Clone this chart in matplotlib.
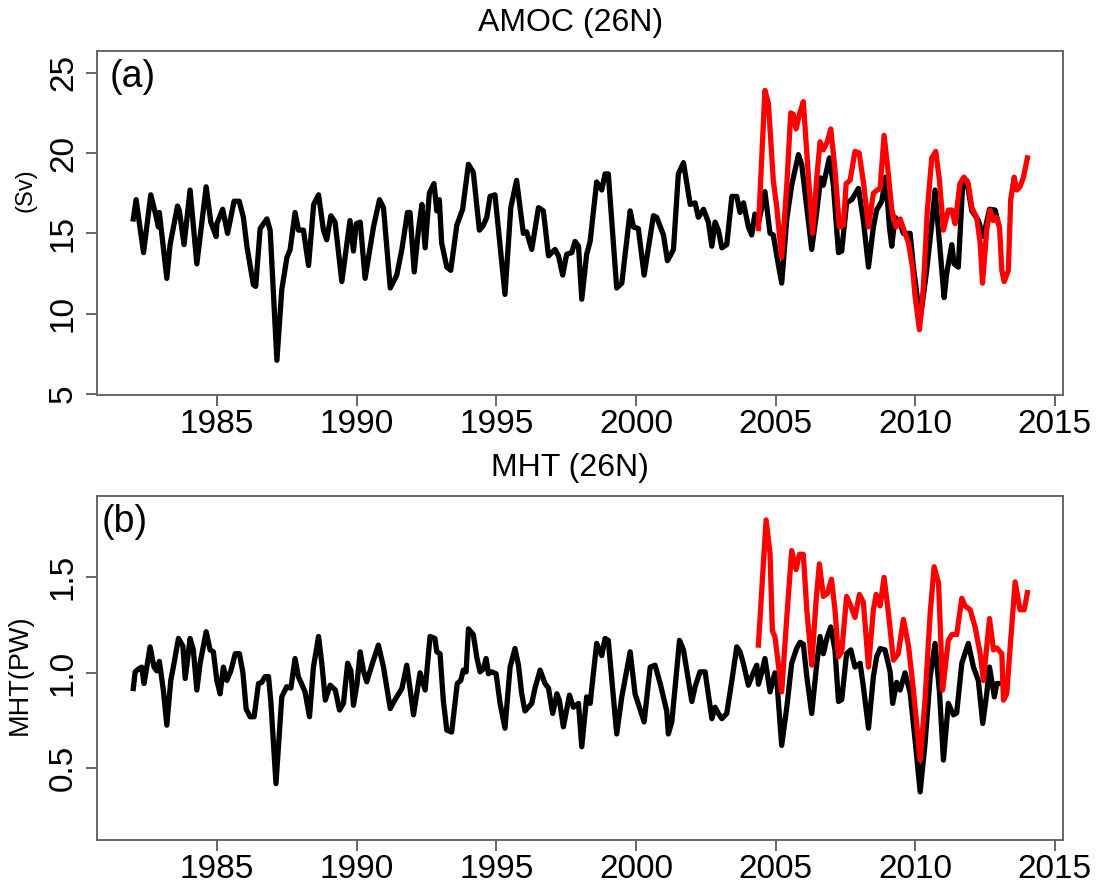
import numpy as np
import matplotlib
matplotlib.use("Agg")
import matplotlib.pyplot as plt

plt.rcParams["font.family"] = ["Liberation Sans", "DejaVu Sans"]

# ---- data (months counted from Jan 1982) ----
# AMOC at 26N, model (black)
amoc_model_mon = [0, 1.2, 4.4, 7.5, 9.4, 10.8, 11.2, 14.4, 15.8, 19.0,
                  19.8, 21.8, 24.4, 27.3, 31.3, 33.3, 35.6, 35.9, 38.4, 40.5,
                  43.3, 45.5, 47.3, 48.8, 51.6, 52.6, 54.5, 57.4, 58.8, 61.7,
                  63.8, 66.0, 67.4, 69.5, 71.0, 73.1, 75.3, 77.5, 79.6, 81.7,
                  83.1, 84.9, 86.7, 89.6, 91.0, 93.1, 94.6, 95.8, 97.5, 99.6,
                  103.2, 105.8, 107.5, 110.4, 113.2, 115.4, 117.8, 118.9, 120.7, 122.6,
                  124.0,
                  125.4, 127.2, 129.2, 130.4, 131.5, 132.5, 134.7, 136.4, 139.0, 141.5,
                  144.0, 146.1, 148.7, 150.4, 151.9, 153.3, 155.4, 159.7, 162.2, 164.7,
                  167.6, 169.0, 171.2, 174.1, 176.2, 178.4, 181.2, 182.7, 184.5, 186.2,
                  188.4, 189.8, 191.3, 192.7, 194.8, 196.3, 199.1, 201.3, 202.7, 204.1,
                  207.7, 209.9, 213.5, 214.9, 217.0, 219.5, 223.5, 224.9, 227.8, 229.5,
                  230.7, 232.1, 234.2, 236.4, 239.3, 241.4, 242.8, 245.0, 247.1, 248.6,
                  250.0, 251.4, 252.9, 255.0, 257.2, 259.3, 260.7, 262.2,
                  264.3, 265.7, 267.1, 268.6, 271.4, 273.6, 275.0, 276.5, 278.6, 280.8,
                  282.9, 285.8, 287.2, 289.4, 291.5, 293.7, 295.4, 296.5, 299.1, 300.8,
                  303.0, 304.4, 306.5, 308.7, 311.6, 313.7, 315.9, 318.0, 319.4, 321.6,
                  323.3, 324.9, 325.9, 327.3, 329.5, 330.9, 333.8, 335.2, 338.1, 340.9,
                  343.1, 344.5, 346.7, 348.4, 349.5, 351.7, 352.7, 354.5, 356.4, 358.1,
                  360.3, 363.1, 365.3, 367.9, 370.3, 371.7]
amoc_model = [15.9, 17.1, 13.8, 17.4, 16.3, 15.4, 16.3, 12.2, 14.3, 16.7,
              16.4, 14.3, 17.7, 13.1, 17.9, 15.7, 14.8, 15.6, 16.5, 15.0,
              17.0, 17.0, 16.0, 14.2, 11.8, 11.7, 15.3, 15.9, 15.2, 7.1,
              11.5, 13.5, 14.0, 16.3, 15.2, 15.2, 13.0, 16.8, 17.4, 15.2,
              14.6, 16.1, 15.7, 12.0, 13.5, 15.8, 13.9, 15.6, 15.7, 12.2,
              15.4, 17.1, 16.6, 11.6, 12.4, 14.0, 16.3, 16.3, 12.6, 15.3,
              16.8,
              14.1, 17.5, 18.1, 16.4, 17.1, 14.4, 12.9, 12.7, 15.5, 16.5,
              19.3, 18.8, 15.2, 15.5, 16.0, 17.3, 17.4, 11.2, 16.6, 18.3,
              15.0, 15.1, 14.0, 16.6, 16.4, 13.6, 14.0, 13.6, 12.4, 13.7,
              13.8, 14.5, 14.2, 10.9, 13.7, 14.5, 18.2, 17.7, 18.7, 18.7,
              11.6, 11.9, 16.4, 15.4, 15.3, 12.4, 16.1, 16.0, 14.9, 13.3,
              13.6, 14.0, 18.7, 19.4, 16.8, 16.9, 16.0, 16.5, 15.7, 14.2,
              15.7, 15.2, 14.1, 14.3, 17.3, 17.3, 16.3, 16.9,
              15.4, 14.9, 16.2, 15.6, 17.6, 15.0, 14.9, 13.6, 11.9, 15.9,
              18.0, 19.9, 19.3, 16.6, 14.0, 16.4, 18.45, 18.0, 19.7, 18.0,
              13.8, 13.9, 16.9, 17.1, 17.8, 15.8, 12.9, 15.4, 16.45, 17.0,
              18.5, 15.4, 14.2, 16.0, 15.6, 15.0, 15.0, 12.9, 9.6, 12.7,
              15.6, 17.7, 13.9, 11.0, 12.5, 14.3, 13.1, 12.9, 18.1, 18.3,
              16.4, 15.8, 14.8, 16.5, 16.45, 15.6]

# AMOC at 26N, RAPID array (red)
amoc_rapid_mon = [268.6, 271.4, 272.9, 275.0, 276.5, 278.6, 280.8, 282.5, 283.6, 284.8,
                  286.2, 287.9, 290.1, 291.9, 293.7, 295.1, 296.5, 298.2, 299.7, 301.5,
                  303.4, 305.1, 306.3, 308.0, 310.1, 311.9, 313.9, 315.9, 318.0, 319.7,
                  320.9, 322.6, 324.0, 325.9, 327.7, 329.5, 330.9, 333.1, 334.9, 335.9,
                  337.8, 339.5, 341.2, 343.1, 344.8, 346.4, 348.1, 350.2, 351.7, 353.1,
                  355.2, 356.9, 358.8, 360.3, 362.4, 363.9, 364.9, 366.7, 368.1, 369.5,
                  370.9, 372.2, 373.2, 374.2, 376.0, 377.0, 378.5, 379.6, 381.0, 382.5,
                  384.2]
amoc_rapid = [15.3, 23.9, 23.1, 18.3, 16.6, 13.5, 18.0, 22.5, 22.4, 21.5,
              22.4, 23.2, 18.5, 15.0, 18.5, 20.7, 20.2, 20.7, 21.5, 19.0,
              15.4, 15.5, 18.1, 18.3, 20.1, 20.0, 18.0, 15.4, 17.5, 17.7,
              17.8, 21.1, 19.3, 16.5, 15.4, 15.9, 15.3, 14.4, 12.8, 11.1,
              9.0, 11.7, 16.45, 19.7, 20.1, 18.3, 15.2, 16.45, 16.45, 15.6,
              18.1, 18.5, 18.1, 16.6, 16.0, 14.4, 11.9, 15.2, 16.45, 15.8,
              16.0, 15.4, 12.7, 12.0, 12.7, 17.1, 18.5, 17.7, 17.9, 18.5,
              19.7]

# MHT at 26N, model (black)
mht_model_mon = [0, 0.8, 2.2, 3.6, 4.6, 5.8, 7.2, 8.9, 10.1, 11.2,
                 12.9, 14.4, 16.1, 17.5, 19.4, 21.3, 22.3, 24.4, 25.8, 27.3,
                 28.7, 31.3, 33.0, 34.4, 35.9, 37.3, 38.7, 40.2, 41.9, 43.8,
                 45.6, 47.1, 48.5, 50.2, 51.9, 53.8, 55.2, 56.6, 58.1, 59.1,
                 61.3, 63.8, 65.9, 67.7, 69.5, 70.9, 72.4, 73.8, 75.7, 77.4,
                 79.6, 81.0, 82.5, 84.6, 86.8, 88.6, 90.3, 92.1, 93.5, 94.6,
                 96.1, 97.5, 98.9, 100.3, 102.5, 105.3, 107.5, 110.4, 112.5, 115.4,
                 117.5, 119.0, 120.4,
                 123.2, 125.4, 127.5, 129.6, 130.4, 131.8, 133.2, 134.7, 136.8, 139.2,
                 140.7, 141.8, 143.0, 144.0, 146.1, 147.6, 149.0, 150.4, 151.6, 152.6,
                 154.0, 155.9, 157.6, 159.7, 161.9, 164.0, 165.5, 166.9, 168.3, 171.2,
                 172.6, 174.8, 176.9, 178.4, 180.2, 182.0, 183.1, 184.8, 187.4, 189.1,
                 191.3, 192.7, 194.8, 196.3, 199.1, 201.3, 202.7, 204.1, 207.7, 209.9,
                 213.5, 215.6, 219.5, 222.1, 224.2, 226.4, 229.2, 229.9, 231.4, 234.7,
                 236.4, 240.0, 241.4, 243.5, 245.7, 248.6, 250.0, 251.4, 252.9, 255.0,
                 257.2, 259.3,
                 260.7, 262.1, 264.3, 266.4, 267.9, 268.6, 270.0, 271.4, 273.6, 275.7,
                 276.7, 278.6, 280.8, 282.9, 285.0, 286.5, 287.9, 289.4, 291.5, 293.7,
                 295.1, 296.5, 298.2, 299.7, 301.5, 303.0, 304.4, 306.5, 308.3, 310.1,
                 312.3, 313.7, 315.9, 318.0, 319.4, 320.9, 323.0, 325.2, 326.3, 328.0,
                 329.5, 331.6, 333.8, 335.9, 338.1, 340.2, 342.4, 344.5, 346.4, 348.1,
                 350.2, 352.4, 353.8, 356.0, 358.8, 361.0, 363.1, 365.0, 366.7, 367.9,
                 370.0, 371.0, 372.5]
mht_model = [0.918, 1.005, 1.02, 1.03, 0.944, 1.03, 1.136, 1.03, 1.01, 1.06,
             0.91, 0.726, 0.96, 1.05, 1.18, 1.14, 0.97, 1.18, 1.12, 0.91,
             1.05, 1.215, 1.12, 1.11, 0.96, 0.89, 1.03, 0.96, 1.01, 1.10,
             1.10, 1.0, 0.81, 0.77, 0.77, 0.944, 0.95, 0.98, 0.98, 0.85,
             0.42, 0.874, 0.927, 0.92, 1.075, 0.98, 0.94, 0.90, 0.77, 1.03,
             1.19, 1.05, 0.857, 0.935, 0.91, 0.805, 0.84, 1.05, 1.01, 0.83,
             0.94, 1.11, 1.01, 0.953, 1.04, 1.145, 1.03, 0.813, 0.86, 0.918,
             1.04, 0.91, 0.78,
             1.0, 0.91, 1.19, 1.18, 1.11, 1.10, 0.857, 0.70, 0.69, 0.944,
             0.96, 1.014, 1.005, 1.23, 1.2, 1.08, 1.005, 1.02, 1.075, 0.995,
             1.005, 0.995, 0.84, 0.71, 1.03, 1.127, 1.04, 0.89, 0.80, 0.84,
             0.92, 1.014, 0.944, 0.92, 0.787, 0.89, 0.855, 0.717, 0.883, 0.82,
             0.84, 0.613, 0.874, 0.84, 1.154, 1.09, 1.18, 1.17, 0.68, 0.874,
             1.11, 0.89, 0.743, 1.03, 1.04, 0.944, 0.80, 0.68, 0.743, 1.17,
             1.12, 0.85, 0.927, 1.005, 1.005, 0.76, 0.82, 0.787, 0.76, 0.787,
             0.96, 1.136,
             1.11, 1.05, 0.935, 1.0, 1.04, 0.94, 1.0, 1.075, 0.90, 1.0,
             0.93, 0.62, 0.82, 1.05, 1.127, 1.16, 1.15, 0.98, 0.787, 1.05,
             1.19, 1.10, 1.19, 1.24, 1.12, 0.85, 0.86, 1.10, 1.12, 1.03,
             1.05, 0.927, 0.71, 0.98, 1.084, 1.127, 1.12, 1.005, 0.84, 0.95,
             0.91, 1.0, 0.895, 0.65, 0.377, 0.63, 0.98, 1.154, 0.90, 0.543,
             0.84, 0.78, 0.79, 1.05, 1.154, 1.03, 0.96, 0.735, 0.89, 1.03,
             0.874, 0.944, 0.944]

# MHT at 26N, RAPID array (red)
mht_rapid_mon = [268.6, 271.9, 273.6, 274.6, 275.7, 278.6, 280.8, 282.9, 284.8, 286.2,
                 287.9, 289.4, 291.5, 293.4, 294.8, 296.5, 298.2, 300.0, 301.5, 303.0,
                 304.4, 306.5, 308.3, 310.1, 312.0, 313.7, 315.9, 318.0, 319.2, 320.9,
                 322.6, 324.5, 326.6, 328.7, 330.9, 333.1, 335.2, 338.1, 340.2, 342.4,
                 344.1, 346.0, 347.8, 350.2, 351.7, 353.8, 356.0, 357.4, 359.6, 361.7,
                 363.9, 365.3, 367.9, 369.6, 371.0, 373.2, 373.9, 375.3, 377.0, 378.9,
                 381.0, 382.8, 384.2]
mht_rapid = [1.145, 1.80, 1.625, 1.22, 1.19, 0.90, 1.29, 1.64, 1.54, 1.62,
             1.62, 1.33, 1.04, 1.38, 1.57, 1.40, 1.415, 1.49, 1.33, 1.084,
             1.11, 1.40, 1.35, 1.29, 1.41, 1.37, 1.03, 1.33, 1.41, 1.35,
             1.50, 1.31, 1.066, 1.10, 1.28, 1.14, 0.91, 0.543, 0.86, 1.31,
             1.555, 1.47, 0.91, 1.17, 1.2, 1.2, 1.39, 1.35, 1.33, 1.24,
             1.10, 0.96, 1.284, 1.12, 1.13, 1.10, 0.857, 0.89, 1.17, 1.476,
             1.33, 1.33, 1.42]

year_ticks = [1985, 1990, 1995, 2000, 2005, 2010, 2015]


def to_year(mon):
    return 1982 + np.array(mon) / 12.0


W, H = 1105, 888
fig = plt.figure(figsize=(W / 100, H / 100), dpi=100)

# axes boxes in pixels: left, top, right, bottom
boxes = [(97, 50.7, 1063, 395), (97, 495.7, 1063, 840)]
axes = []
for (l, t, r, b) in boxes:
    ax = fig.add_axes([l / W, 1 - b / H, (r - l) / W, (b - t) / H])
    axes.append(ax)

panels = [
    (axes[0], amoc_model_mon, amoc_model, amoc_rapid_mon, amoc_rapid,
     "AMOC (26N)", "(a)", (4.94, 26.37), [5, 10, 15, 20, 25], ["5", "10", "15", "20", "25"]),
    (axes[1], mht_model_mon, mht_model, mht_rapid_mon, mht_rapid,
     "MHT (26N)", "(b)", (0.125, 1.927), [0.5, 1.0, 1.5], ["0.5", "1.0", "1.5"]),
]

for ax, m_mon, m_val, r_mon, r_val, title, tag, ylim, yt, ytl in panels:
    ax.plot(to_year(m_mon), m_val, color="black", lw=3.8, solid_joinstyle="round")
    ax.plot(to_year(r_mon), r_val, color="#ff0000", lw=3.8, solid_joinstyle="round")
    ax.set_xlim(1980.70, 2015.29)
    ax.set_ylim(*ylim)
    ax.set_xticks(year_ticks)
    ax.set_xticklabels([str(y) for y in year_ticks])
    ax.set_yticks(yt)
    ax.set_yticklabels(ytl)
    for s in ax.spines.values():
        s.set_color("#666666")
        s.set_linewidth(1.4)
    ax.tick_params(axis="both", direction="out", length=8, width=1.4,
                   color="#666666", labelsize=24, labelcolor="black")
    ax.tick_params(axis="x", pad=2)
    ax.tick_params(axis="y", pad=5, labelrotation=90)
    for lab in ax.get_yticklabels():
        lab.set_va("center")
    ax.set_title(title, fontsize=23, x=0.49, pad=14)

# panel tags and y labels, placed in pixels
fig.text(110 / W, 1 - 77 / H, "(a)", fontsize=27, ha="left", va="center")
fig.text(102 / W, 1 - 522 / H, "(b)", fontsize=27, ha="left", va="center")
fig.text(26 / W, 1 - 190 / H, "(Sv)", fontsize=17, rotation=90, ha="center", va="center")
fig.text(20 / W, 1 - 675 / H, "MHT(PW)", fontsize=19.5, rotation=90, ha="center", va="center")

plt.savefig("out.png", dpi=100)
plt.close()
